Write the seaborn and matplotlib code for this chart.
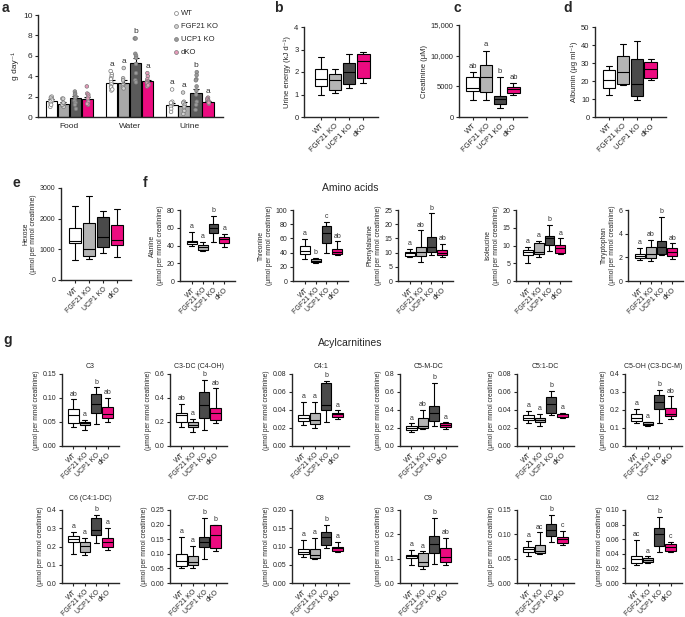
import numpy as np
import pandas as pd
import matplotlib
matplotlib.use('Agg')
import matplotlib.pyplot as plt
from matplotlib.lines import Line2D
from matplotlib.ticker import FormatStrFormatter
import seaborn as sns

sns.set_style('ticks')
plt.rcParams['font.family'] = ['Liberation Sans', 'DejaVu Sans']
plt.rcParams['axes.linewidth'] = 1.0
plt.rcParams['xtick.major.width'] = 0.8
plt.rcParams['ytick.major.width'] = 0.8
plt.rcParams['xtick.major.size'] = 2.5
plt.rcParams['ytick.major.size'] = 2.5
plt.rcParams['xtick.major.pad'] = 1.5
plt.rcParams['ytick.major.pad'] = 1.5

groups = ['WT', 'FGF21 KO', 'UCP1 KO', 'dKO']
box_colors = ['#ffffff', '#b4b4b4', '#4a4a4a', '#ec0b80']
bar_colors = ['#ffffff', '#a8a8a8', '#5a5a5a', '#ec0b80']
dot_colors = ['#ffffff', '#d0d0d0', '#9a9a9a', '#e59ab9']

# ---- panel a: intake / output (mean, sem, single animals) ----
intake_cats = ['Food', 'Water', 'Urine']
intake_mean = {'WT': [1.6, 3.35, 1.2], 'FGF21 KO': [1.3, 3.35, 1.1],
               'UCP1 KO': [1.85, 5.25, 2.4], 'dKO': [1.8, 3.5, 1.5]}
intake_sem = {'WT': [0.15, 0.25, 0.2], 'FGF21 KO': [0.15, 0.3, 0.35],
              'UCP1 KO': [0.2, 0.5, 0.35], 'dKO': [0.2, 0.15, 0.1]}
food_dots = {'WT': [1.95, 2.0, 1.9, 1.8, 1.7, 1.6, 1.5, 1.3, 1.0, 1.2],
             'FGF21 KO': [1.8, 1.8, 1.2, 1.1, 1.0, 1.3, 1.2, 1.4],
             'UCP1 KO': [2.5, 2.3, 2.2, 2.0, 1.9, 1.6, 1.4, 0.8, 1.2],
             'dKO': [3.0, 2.3, 2.2, 2.0, 1.8, 1.5, 1.2, 1.3]}
water_dots = {'WT': [4.5, 4.2, 4.0, 3.8, 3.7, 3.4, 3.2, 3.0, 2.9, 2.6, 2.7],
              'FGF21 KO': [4.8, 3.8, 3.6, 3.2, 3.1, 2.9, 2.8],
              'UCP1 KO': [7.7, 7.7, 6.2, 6.0, 5.8, 5.2, 4.3, 3.6, 3.4],
              'dKO': [4.3, 4.0, 3.7, 3.5, 3.4, 3.3, 3.2, 3.0, 3.1]}
urine_dots = {'WT': [2.7, 1.5, 1.3, 1.2, 1.1, 1.0, 0.8, 0.5, 1.4],
              'FGF21 KO': [2.4, 1.5, 1.4, 1.2, 1.0, 0.7, 0.6, 0.3],
              'UCP1 KO': [4.4, 4.1, 3.7, 3.6, 3.0, 2.6, 2.2, 1.5, 1.2, 0.7],
              'dKO': [1.9, 1.8, 1.7, 1.6, 1.5, 1.3, 1.4]}
intake_sig = {'Water': ['a', 'a', 'b', 'a'], 'Urine': ['a', 'a', 'b', 'a']}

# ---- box panels: [min, q1, median, q3, max] per group ----
urine_energy = [[1.0, 1.4, 1.7, 2.15, 2.68], [1.05, 1.22, 1.65, 1.9, 2.12],
                [1.3, 1.48, 2.0, 2.4, 2.78], [1.5, 1.75, 2.5, 2.78, 2.9]]
creatinine = [[2800, 4300, 4700, 6500, 7300], [2770, 4070, 6550, 8400, 10800],
              [1520, 2120, 2900, 3370, 6470], [3580, 3860, 4510, 4950, 5490]]
creatinine_sig = ['ab', 'a', 'b', 'ab']
albumin = [[12.0, 16.3, 20.7, 25.9, 28.3], [17.6, 18.5, 25.0, 34.1, 40.7],
           [9.6, 11.5, 18.1, 32.4, 42.2], [20.4, 21.7, 26.9, 30.6, 32.0]]
hexose = [[654, 1200, 1275, 1690, 2397], [687, 785, 1003, 1853, 2724],
          [893, 1090, 1417, 2070, 2256], [742, 1144, 1308, 1798, 2310]]

alanine = [[39.6, 41.2, 43.4, 44.9, 55.4], [33.6, 34.7, 37.8, 40.4, 44.1],
           [44.1, 54.3, 60.0, 64.1, 73.2], [38.5, 43.0, 47.2, 49.1, 52.8]]
threonine = [[31.0, 38.1, 42.9, 48.6, 59.0], [24.8, 26.2, 28.6, 31.0, 32.9],
             [40.0, 52.9, 67.6, 78.0, 82.9], [37.1, 38.1, 41.4, 44.8, 55.7]]
phenylalanine = [[8.3, 8.8, 9.7, 10.3, 11.4], [6.7, 8.7, 10.3, 12.0, 17.8],
                 [9.1, 10.3, 12.0, 15.6, 23.8], [8.5, 9.1, 9.9, 10.8, 13.2]]
isoleucine = [[5.2, 7.3, 8.2, 8.7, 9.6], [6.7, 7.5, 8.2, 10.6, 11.3],
              [8.5, 10.1, 12.0, 12.7, 15.8], [7.5, 8.0, 9.2, 10.1, 12.0]]
tryptophan = [[1.76, 1.98, 2.12, 2.32, 2.83], [1.67, 1.95, 2.32, 2.89, 3.46],
              [2.18, 2.32, 2.89, 3.37, 5.44], [1.9, 2.1, 2.46, 2.75, 3.17]]
amino_names = ['Alanine', 'Threonine', 'Phenylalanine', 'Isoleucine', 'Thryptophan']
amino_sig = [['a', 'a', 'b', 'a'], ['a', 'b', 'c', 'ab'], ['a', 'ab', 'b', 'ab'],
             ['a', 'a', 'b', 'a'], ['a', 'ab', 'b', 'ab']]

c3 = [[0.039, 0.047, 0.064, 0.078, 0.097], [0.034, 0.043, 0.047, 0.051, 0.054],
      [0.046, 0.069, 0.088, 0.109, 0.122], [0.051, 0.059, 0.066, 0.082, 0.101]]
c3dc = [[0.162, 0.197, 0.258, 0.279, 0.348], [0.115, 0.156, 0.175, 0.197, 0.225],
        [0.134, 0.233, 0.34, 0.45, 0.55], [0.189, 0.216, 0.274, 0.315, 0.48]]
c41 = [[0.0236, 0.028, 0.0316, 0.034, 0.049], [0.02, 0.0244, 0.0287, 0.037, 0.049],
       [0.027, 0.04, 0.046, 0.07, 0.072], [0.0305, 0.0324, 0.0353, 0.037, 0.0396]]
c5mdc = [[0.153, 0.182, 0.2, 0.218, 0.251], [0.189, 0.2, 0.218, 0.309, 0.4],
         [0.218, 0.28, 0.371, 0.444, 0.7], [0.189, 0.215, 0.233, 0.255, 0.262]]
c51dc = [[0.026, 0.0287, 0.0316, 0.034, 0.039], [0.0225, 0.027, 0.029, 0.0316, 0.036],
         [0.034, 0.037, 0.047, 0.055, 0.061], [0.031, 0.0324, 0.0353, 0.036, 0.037]]
c5oh = [[0.127, 0.14, 0.158, 0.18, 0.204], [0.109, 0.118, 0.125, 0.131, 0.136],
        [0.127, 0.204, 0.245, 0.282, 0.313], [0.149, 0.167, 0.18, 0.213, 0.276]]
c6 = [[0.16, 0.222, 0.24, 0.255, 0.278], [0.155, 0.169, 0.205, 0.227, 0.249],
      [0.218, 0.264, 0.291, 0.355, 0.373], [0.182, 0.2, 0.224, 0.249, 0.3]]
c7dc = [[0.051, 0.057, 0.074, 0.099, 0.157], [0.051, 0.0625, 0.072, 0.091, 0.128],
        [0.083, 0.123, 0.142, 0.159, 0.222], [0.11, 0.119, 0.165, 0.197, 0.199]]
c8 = [[0.071, 0.08, 0.086, 0.093, 0.118], [0.065, 0.069, 0.076, 0.093, 0.123],
      [0.095, 0.105, 0.125, 0.139, 0.159], [0.084, 0.088, 0.095, 0.1, 0.112]]
c9 = [[0.072, 0.102, 0.109, 0.116, 0.136], [0.059, 0.068, 0.086, 0.123, 0.13],
      [0.078, 0.123, 0.16, 0.195, 0.269], [0.072, 0.086, 0.105, 0.143, 0.184]]
c10 = [[0.056, 0.063, 0.07, 0.074, 0.0866], [0.06, 0.061, 0.065, 0.078, 0.104],
       [0.084, 0.0975, 0.109, 0.121, 0.14], [0.078, 0.082, 0.091, 0.0955, 0.107]]
c12 = [[0.025, 0.0273, 0.0332, 0.0364, 0.059], [0.0273, 0.0286, 0.031, 0.034, 0.0364],
       [0.0423, 0.051, 0.067, 0.075, 0.09], [0.0423, 0.0445, 0.05, 0.0536, 0.056]]
acyl_names = ['C3', 'C3-DC (C4-OH)', 'C4:1', 'C5-M-DC', 'C5:1-DC', 'C5-OH (C3-DC-M)',
              'C6 (C4:1-DC)', 'C7-DC', 'C8', 'C9', 'C10', 'C12']
acyl_sig = [['ab', 'a', 'b', 'ab'], ['ab', 'a', 'b', 'ab'], ['a', 'a', 'b', 'a'],
            ['a', 'ab', 'b', 'a'], ['a', 'a', 'b', 'a'], ['a', 'a', 'b', 'ab'],
            ['a', 'a', 'b', 'a'], ['a', 'a', 'b', 'b'], ['a', 'a', 'b', 'a'],
            ['a', 'a', 'b', 'ab'], ['a', 'ac', 'b', 'c'], ['ac', 'a', 'b', 'c']]

W, H = 685, 617
fig = plt.figure(figsize=(W / 100, H / 100), dpi=100)


def px_rect(x0, y0, x1, y1):
    return [x0 / W, 1 - y1 / H, (x1 - x0) / W, (y1 - y0) / H]


def box_panel(box, stats, ylim, yticks, ylabel, fmt=None, ticklabels=None, sig=None,
              title=None, fs=5, lab_fs=4.8, xlim=(-1.0, 4.0), title_pad=4):
    ax = fig.add_axes(px_rect(*box))
    df = pd.DataFrame({'group': np.repeat(groups, 5), 'value': np.ravel(stats)})
    sns.boxplot(data=df, x='group', y='value', hue='group', order=groups, hue_order=groups,
                palette=box_colors, saturation=1, whis=(0, 100), width=0.9, linewidth=0.8,
                linecolor='black', legend=False, ax=ax)
    ax.set_xlim(*xlim)
    ax.set_ylim(*ylim)
    ax.set_yticks(yticks)
    if ticklabels is not None:
        ax.set_yticklabels(ticklabels)
    elif fmt is not None:
        ax.yaxis.set_major_formatter(FormatStrFormatter(fmt))
    ax.set_xlabel('')
    ax.set_ylabel(ylabel, fontsize=lab_fs, labelpad=2)
    ax.set_xticks(range(4))
    ax.set_xticklabels(groups, rotation=45, ha='right', rotation_mode='anchor', fontsize=fs)
    ax.tick_params(axis='y', labelsize=fs)
    sns.despine(ax=ax)
    if sig:
        off = (ylim[1] - ylim[0]) * 0.025
        for i, s in enumerate(sig):
            ax.text(i, stats[i][4] + off, s, ha='center', va='bottom', fontsize=fs,
                    color='#333333')
    if title:
        ax.set_title(title, fontsize=fs, pad=title_pad)
    return ax


# ---- panel a ----
ax = fig.add_axes(px_rect(38, 15, 223, 117))
mean_df = pd.DataFrame([(c, g, intake_mean[g][i]) for g in groups
                        for i, c in enumerate(intake_cats)], columns=['cat', 'group', 'mean'])
sns.barplot(data=mean_df, x='cat', y='mean', hue='group', order=intake_cats, hue_order=groups,
            palette=bar_colors, saturation=1, edgecolor='black', linewidth=0.8, errorbar=None,
            width=0.8, gap=0.05, legend=False, ax=ax)
for p in ax.patches:
    xc = p.get_x() + p.get_width() / 2
    ci = int(round(xc))
    gi = int(round((xc - ci) / 0.2 + 1.5))
    if 0 <= gi < 4 and p.get_height() > 0:
        ax.errorbar(xc, p.get_height(), yerr=[[0], [intake_sem[groups[gi]][ci]]],
                    color='black', lw=0.8, capsize=2.2, capthick=0.8, zorder=3)
dot_rows = []
for cat, dd in zip(intake_cats, [food_dots, water_dots, urine_dots]):
    for g in groups:
        dot_rows += [(cat, g, v) for v in dd[g]]
dot_df = pd.DataFrame(dot_rows, columns=['cat', 'group', 'value'])
np.random.seed(3)
sns.stripplot(data=dot_df, x='cat', y='value', hue='group', order=intake_cats, hue_order=groups,
              dodge=True, jitter=0.07, size=2.6, palette=dot_colors, edgecolor='#7a7a7a',
              linewidth=0.5, legend=False, ax=ax, zorder=4)
for ci, cat in enumerate(intake_cats):
    if cat in intake_sig:
        dd = [water_dots, urine_dots][ci - 1]
        for gi, g in enumerate(groups):
            ax.text(ci + (gi - 1.5) * 0.2, max(dd[g]) + 0.3, intake_sig[cat][gi],
                    ha='center', va='bottom', fontsize=6, color='#333333')
ax.set_xlim(-0.52, 2.55)
ax.set_ylim(0, 10)
ax.set_yticks([0, 2, 4, 6, 8, 10])
ax.set_xlabel('')
ax.set_ylabel('g day⁻¹', fontsize=6, labelpad=3)
ax.tick_params(axis='both', labelsize=6)
ax.tick_params(axis='x', length=0, pad=4)
sns.despine(ax=ax)
handles = [Line2D([], [], marker='o', ls='', markersize=2.8, markerfacecolor=c,
                  markeredgecolor='#7a7a7a', markeredgewidth=0.5) for c in dot_colors]
ax.legend(handles, groups, loc='upper left', bbox_to_anchor=(0.71, 1.08), frameon=False,
          fontsize=5.5, handletextpad=0.1, labelspacing=0.75, handlelength=1.0,
          borderaxespad=0)

# ---- panels b, c, d ----
box_panel((304, 27, 378, 117), urine_energy, (0, 4), [0, 1, 2, 3, 4],
          'Urine energy (kJ d⁻¹)', fs=5.5, lab_fs=5.5, xlim=(-1.2, 4.05))
box_panel((459, 25, 527, 117), creatinine, (0, 15000), [0, 5000, 10000, 15000],
          'Creatinine (μM)', ticklabels=['0', '5000', '10,000', '15,000'],
          sig=creatinine_sig, fs=5.5, lab_fs=5.5)
box_panel((595, 27, 666, 117), albumin, (0, 50), [0, 10, 20, 30, 40, 50],
          'Albumin (μg ml⁻¹)', fs=5.5, lab_fs=5.5, xlim=(-1.0, 4.1))

# ---- panel e ----
box_panel((61, 188, 131, 280), hexose, (0, 3000), [0, 1000, 2000, 3000],
          'Hexose\n(μmol per mmol creatinine)', xlim=(-1.0, 4.0))

# ---- panel f ----
amino_data = [alanine, threonine, phenylalanine, isoleucine, tryptophan]
amino_ylim = [(0, 80), (0, 100), (0, 25), (0, 20), (0, 6)]
amino_ticks = [[0, 20, 40, 60, 80], [0, 20, 40, 60, 80, 100], [0, 5, 10, 15, 20, 25],
               [0, 5, 10, 15, 20], [0, 2, 4, 6]]
amino_x = [180, 293, 398, 516, 628]
for k in range(5):
    box_panel((amino_x[k], 210, amino_x[k] + 55, 281), amino_data[k], amino_ylim[k],
              amino_ticks[k], amino_names[k] + '\n(μmol per mmol creatinine)',
              sig=amino_sig[k], xlim=(-1.1, 4.0))

# ---- panel g ----
acyl_data = [c3, c3dc, c41, c5mdc, c51dc, c5oh, c6, c7dc, c8, c9, c10, c12]
acyl_top = [0.15, 0.6, 0.08, 0.8, 0.08, 0.4, 0.4, 0.25, 0.20, 0.3, 0.15, 0.10]
acyl_step = [0.05, 0.2, 0.02, 0.2, 0.02, 0.1, 0.1, 0.05, 0.05, 0.1, 0.05, 0.02]
acyl_x = [62, 170, 292, 400, 517, 625]
for k in range(12):
    row, col = divmod(k, 6)
    y0, y1 = [(374, 446), (510, 583)][row]
    fmt = '%.2f' if acyl_step[k] < 0.1 else '%.1f'
    ticks = np.round(np.arange(0, acyl_top[k] + 1e-9, acyl_step[k]), 3)
    box_panel((acyl_x[col], y0, acyl_x[col] + 57, y1), acyl_data[k], (0, acyl_top[k]), ticks,
              '(μmol per mmol creatinine)', fmt=fmt, sig=acyl_sig[k], title=acyl_names[k],
              title_pad=[4, 7][row])

# ---- panel letters and section titles ----
for lab, x, y in [('a', 2, 8), ('b', 274, 8), ('c', 453, 8), ('d', 563, 8),
                  ('e', 12, 183), ('f', 143, 183), ('g', 3, 340)]:
    fig.text(x / W, 1 - y / H, lab, fontsize=10, fontweight='bold', ha='left', va='center')
fig.text(350 / W, 1 - 188 / H, 'Amino acids', fontsize=7.5, ha='center', va='center')
fig.text(350 / W, 1 - 343 / H, 'Acylcarnitines', fontsize=7.5, ha='center', va='center')

fig.savefig('out.png', dpi=100)
